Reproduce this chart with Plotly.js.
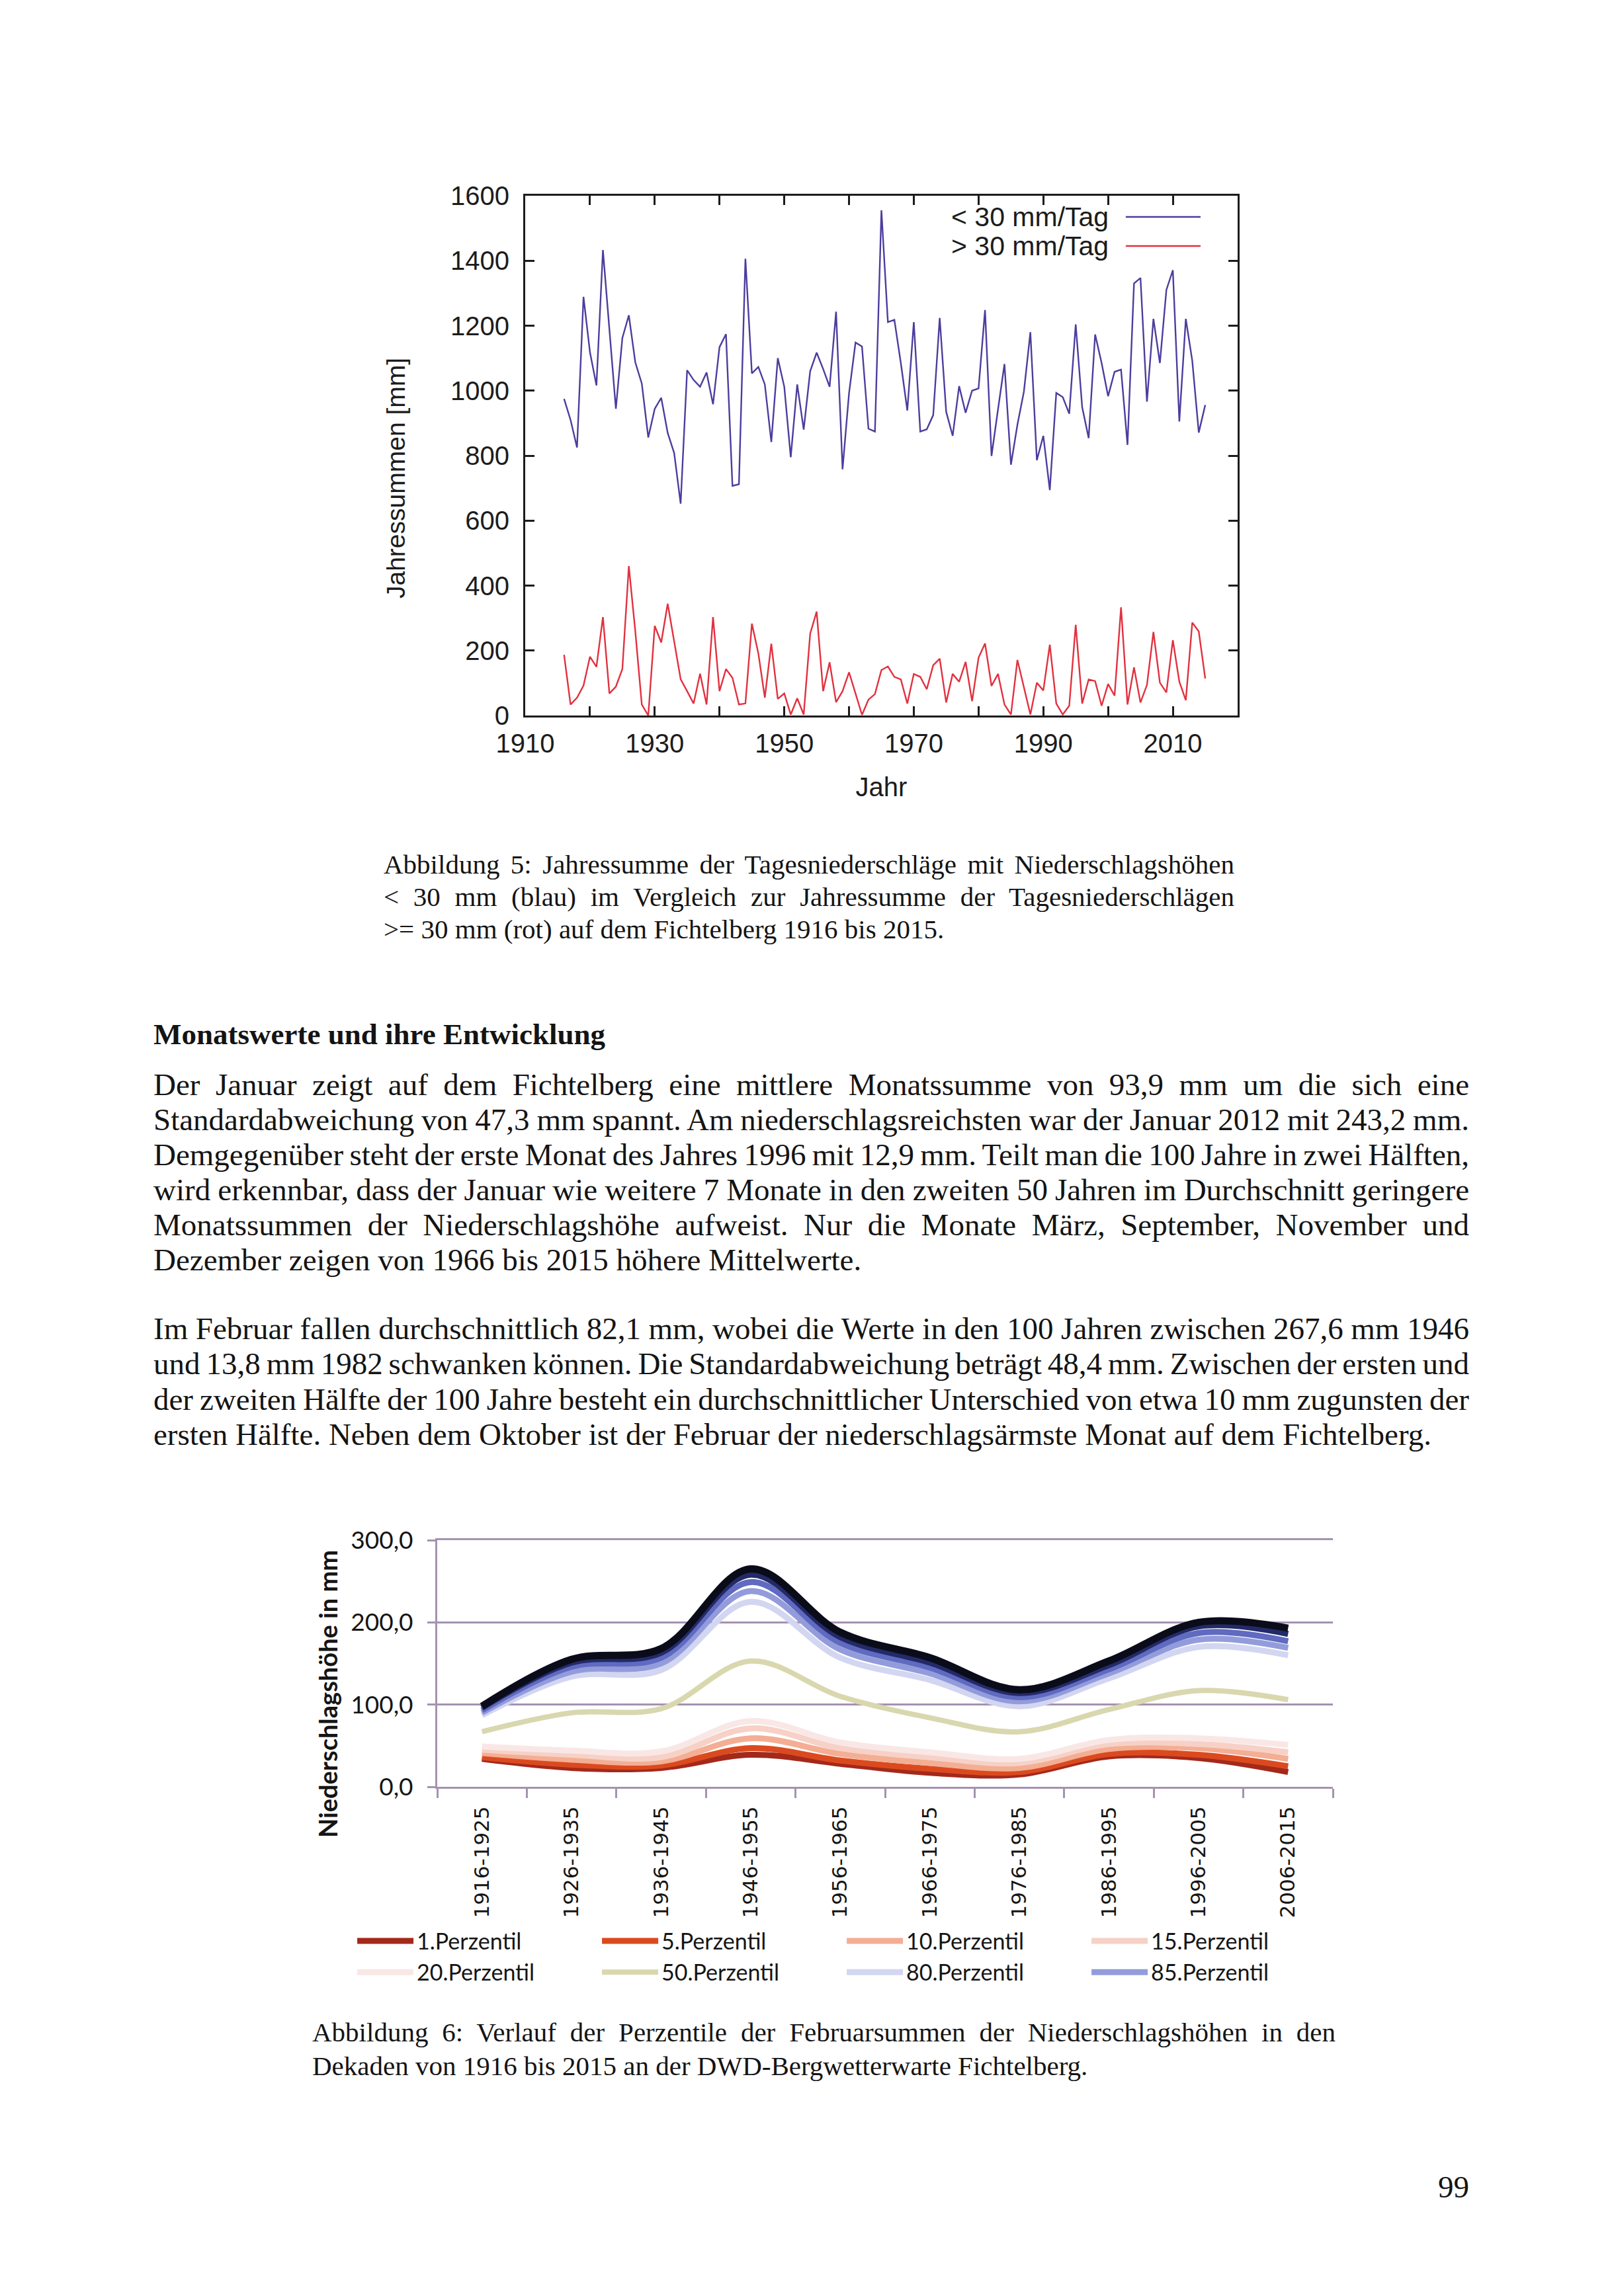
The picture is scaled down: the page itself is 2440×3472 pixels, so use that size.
<!DOCTYPE html>
<html><head><meta charset="utf-8">
<script src="https://cdn.plot.ly/plotly-3.0.1.min.js"></script>
<style>
html,body{margin:0;padding:0;background:#fff;}
body{width:2440px;height:3472px;position:relative;overflow:hidden;font-family:'Liberation Serif','Times New Roman',serif;color:#141414;}
.ln{position:absolute;white-space:nowrap;}
.cap{font-size:41px;line-height:47px;}
.txt{font-size:47px;line-height:53px;}
</style></head><body>
<div id="c1" style="position:absolute;left:480px;top:200px;width:1460px;height:1050px"></div>
<div id="c2" style="position:absolute;left:440px;top:2280px;width:1620px;height:760px"></div>

<div class="ln cap j" style="left:580px;top:1284px;width:1286px">Abbildung 5: Jahressumme der Tagesniederschläge mit Niederschlagshöhen</div>
<div class="ln cap j" style="left:580px;top:1333px;width:1286px">&lt; 30 mm (blau) im Vergleich zur Jahressumme der Tagesniederschlägen</div>
<div class="ln cap" style="left:580px;top:1382px">&gt;= 30 mm (rot) auf dem Fichtelberg 1916 bis 2015.</div>

<div class="ln" style="left:232px;top:1538px;font-size:45px;line-height:53px;font-weight:bold">Monatswerte und ihre Entwicklung</div>

<div class="ln txt j" style="left:232px;top:1614px;width:1989px">Der Januar zeigt auf dem Fichtelberg eine mittlere Monatssumme von 93,9 mm um die sich eine</div>
<div class="ln txt j" style="left:232px;top:1667px;width:1989px">Standardabweichung von 47,3 mm spannt. Am niederschlagsreichsten war der Januar 2012 mit 243,2 mm.</div>
<div class="ln txt j" style="left:232px;top:1720px;width:1989px">Demgegenüber steht der erste Monat des Jahres 1996 mit 12,9 mm. Teilt man die 100 Jahre in zwei Hälften,</div>
<div class="ln txt j" style="left:232px;top:1773px;width:1989px">wird erkennbar, dass der Januar wie weitere 7 Monate in den zweiten 50 Jahren im Durchschnitt geringere</div>
<div class="ln txt j" style="left:232px;top:1826px;width:1989px">Monatssummen der Niederschlagshöhe aufweist. Nur die Monate März, September, November und</div>
<div class="ln txt" style="left:232px;top:1879px">Dezember zeigen von 1966 bis 2015 höhere Mittelwerte.</div>

<div class="ln txt j" style="left:232px;top:1983px;width:1989px">Im Februar fallen durchschnittlich 82,1 mm, wobei die Werte in den 100 Jahren zwischen 267,6 mm 1946</div>
<div class="ln txt j" style="left:232px;top:2036px;width:1989px">und 13,8 mm 1982 schwanken können. Die Standardabweichung beträgt 48,4 mm. Zwischen der ersten und</div>
<div class="ln txt j" style="left:232px;top:2090px;width:1989px">der zweiten Hälfte der 100 Jahre besteht ein durchschnittlicher Unterschied von etwa 10 mm zugunsten der</div>
<div class="ln txt" style="left:232px;top:2143px">ersten Hälfte. Neben dem Oktober ist der Februar der niederschlagsärmste Monat auf dem Fichtelberg.</div>

<div class="ln cap j" style="left:472px;top:3050px;width:1547px">Abbildung 6: Verlauf der Perzentile der Februarsummen der Niederschlagshöhen in den</div>
<div class="ln cap" style="left:472px;top:3101px">Dekaden von 1916 bis 2015 an der DWD-Bergwetterwarte Fichtelberg.</div>

<div class="ln txt" style="left:2174px;top:3281px">99</div>

<script>
// ---------- Abbildung 5 data ----------
const years = [1916,1917,1918,1919,1920,1921,1922,1923,1924,1925,1926,1927,1928,1929,1930,1931,1932,1933,1934,1935,
1936,1937,1938,1939,1940,1941,1942,1943,1944,1945,1946,1947,1948,1949,1950,1951,1952,1953,1954,1955,
1956,1957,1958,1959,1960,1961,1962,1963,1964,1965,1966,1967,1968,1969,1970,1971,1972,1973,1974,1975,
1976,1977,1978,1979,1980,1981,1982,1983,1984,1985,1986,1987,1988,1989,1990,1991,1992,1993,1994,1995,
1996,1997,1998,1999,2000,2001,2002,2003,2004,2005,2006,2007,2008,2009,2010,2011,2012,2013,2014,2015];
const below30 = [975,910,825,1289,1118,1016,1433,1180,944,1162,1232,1087,1022,856,944,978,870,808,652,1063,
1033,1012,1056,958,1134,1174,707,712,1406,1053,1073,1019,842,1100,1012,795,1019,880,1060,1117,
1067,1012,1243,758,992,1148,1136,883,874,1555,1211,1218,1085,939,1211,874,881,925,1224,935,
861,1014,932,1000,1007,1248,799,942,1082,772,895,997,1180,786,861,694,993,980,929,1204,
949,854,1173,1085,983,1058,1065,833,1330,1347,966,1221,1085,1310,1371,905,1221,1092,871,956];
const above30 = [187,34,55,92,181,150,303,68,89,143,460,259,34,0,276,225,344,230,112,75,
37,129,34,303,75,143,116,34,37,283,191,55,221,51,68,3,53,3,252,320,
75,164,41,75,133,68,2,49,66,140,151,119,111,37,128,119,81,155,175,40,
128,104,165,44,178,222,91,128,34,3,171,87,3,101,77,218,37,3,30,279,
37,111,106,30,97,61,333,34,148,40,94,257,101,71,232,104,47,286,259,114];
const seriesNames1 = ['< 30 mm/Tag', '> 30 mm/Tag'];

// ---------- Abbildung 6 data ----------
const decades = ['1916-1925','1926-1935','1936-1945','1946-1955','1956-1965','1966-1975','1976-1985','1986-1995','1996-2005','2006-2015'];
const p1  = [34, 23, 23, 39, 28, 17, 15, 37, 35, 18];
const p5  = [36, 27, 26, 47, 32, 22, 18, 40, 39, 25];
const p10 = [41, 33, 31, 59, 40, 29, 23, 46, 47, 34];
const p15 = [45, 39, 36, 71, 47, 36, 29, 52, 52, 42];
const p20 = [49, 44, 43, 80, 54, 42, 34, 57, 59, 51];
const p50 = [67, 90, 95, 153, 110, 84, 67, 94, 117, 106];
const p80 = [87, 134, 142, 225, 157, 130, 98, 132, 170, 160];
const p85 = [90, 140, 150, 238, 167, 138, 104, 138, 179, 169];
const p90 = [93, 146, 157, 249, 175, 145, 109, 143, 187, 177];
const p95 = [96, 151, 163, 258, 182, 151, 114, 148, 195, 186];
const p99 = [98, 155, 168, 265, 188, 157, 118, 153, 200, 193];
const percentileNames = ['1.Perzentil','5.Perzentil','10.Perzentil','15.Perzentil','20.Perzentil','50.Perzentil','80.Perzentil','85.Perzentil','90.Perzentil','95.Perzentil','99.Perzentil'];

// ---------- Chart 1 ----------
const ink = '#1c1c1c';
const sans = 'Liberation Sans, Arial, sans-serif';
const blue = '#4b3e9e', red = '#e2313f';
Plotly.newPlot('c1', [
  {x: years, y: below30, type:'scatter', mode:'lines', name: seriesNames1[0], line:{color:blue, width:2.4}, showlegend:false},
  {x: years, y: above30, type:'scatter', mode:'lines', name: seriesNames1[1], line:{color:red, width:2.4}, showlegend:false}
], {
  width:1460, height:1050,
  margin:{l:314, r:69, t:96, b:168},
  paper_bgcolor:'rgba(0,0,0,0)', plot_bgcolor:'#fff',
  font:{family:sans, color:ink, size:40},
  xaxis:{range:[1910,2020], tick0:1910, dtick:20, ticks:'inside', ticklen:14, tickwidth:3, tickcolor:ink,
         showline:true, linecolor:ink, linewidth:3, mirror:'ticks', showgrid:false, zeroline:false,
         tickfont:{family:sans, size:40, color:ink}, ticklabelstandoff:5,
         minor:{dtick:10, tick0:1910, ticks:'inside', ticklen:14, tickwidth:3, tickcolor:ink, showgrid:false},
         title:{text:'Jahr', font:{family:sans, size:40, color:ink}, standoff:31}},
  yaxis:{range:[0,1600], dtick:200, ticks:'inside', ticklen:14, tickwidth:3, tickcolor:ink,
         showline:true, linecolor:ink, linewidth:3, mirror:'ticks', showgrid:false, zeroline:false,
         tickfont:{family:sans, size:40, color:ink}, ticklabelstandoff:13},
  annotations:[
    {text:'Jahressummen [mm]', xref:'paper', yref:'paper', x:-0.182, y:0.4567, textangle:-90, showarrow:false,
     xanchor:'center', yanchor:'middle', font:{family:sans, size:39, color:ink}},
    {text:seriesNames1[0], xref:'paper', yref:'paper', x:0.8208, y:0.9593, showarrow:false, xanchor:'right', yanchor:'middle',
     font:{family:sans, size:41, color:ink}},
    {text:seriesNames1[1], xref:'paper', yref:'paper', x:0.8208, y:0.9033, showarrow:false, xanchor:'right', yanchor:'middle',
     font:{family:sans, size:41, color:ink}}
  ],
  shapes:[
    {type:'line', xref:'paper', yref:'paper', x0:0.843, x1:0.948, y0:0.9593, y1:0.9593, line:{color:blue, width:2.4}},
    {type:'line', xref:'paper', yref:'paper', x0:0.843, x1:0.948, y0:0.9033, y1:0.9033, line:{color:red, width:2.4}}
  ]
}, {displayModeBar:false});

// ---------- Chart 2 ----------
const grid = '#a592b0';
const lato = 'Lato, Open Sans, sans-serif';
const pSeries = [p1,p5,p10,p15,p20,p50,p80,p85,p90,p95,p99];
const pColors = ['#a3291b','#db4a1f','#f3ae94','#f7d1c6','#f9e7e6','#d9d7ae','#d3d6f1','#939cdb','#5f6ac0','#232a68','#0b0c1a'];
const pWidths = [9,9,9,9,9,8,9,9,9,9,11];
const traces2 = pSeries.map((ys,i)=>({
  x: decades, y: ys, type:'scatter', mode:'lines', name: percentileNames[i],
  line:{color:pColors[i], width:pWidths[i], shape:'spline', smoothing:1},
  showlegend: i < 8
}));
Plotly.newPlot('c2', traces2, {
  width:1620, height:760,
  margin:{l:221, r:45, t:49, b:338},
  separators:',.',
  paper_bgcolor:'rgba(0,0,0,0)', plot_bgcolor:'rgba(0,0,0,0)',
  font:{family:lato, color:'#151515', size:34},
  xaxis:{type:'category', range:[-0.5,9.5], tickson:'boundaries', ticks:'outside', ticklen:14, tickwidth:3, tickcolor:grid,
         showline:true, linecolor:grid, linewidth:3, mirror:true, showgrid:false, zeroline:false, tickangle:-90,
         tickfont:{family:'DejaVu Sans, sans-serif', size:31, color:'#151515'}, ticklabelstandoff:14},
  yaxis:{range:[0,300], dtick:100, tickformat:'.1f', ticks:'outside', ticklen:12, tickwidth:3, tickcolor:grid,
         showline:true, linecolor:grid, linewidth:3, showgrid:true, gridcolor:grid, gridwidth:3, zeroline:false,
         tickfont:{family:lato, size:37, color:'#151515'}, ticklabelstandoff:14},
  legend:{orientation:'h', x:-0.093, xanchor:'left', y:-0.548, yanchor:'top', itemwidth:85,
          entrywidth:270, entrywidthmode:'pixels', font:{family:lato, size:34, color:'#151515'},
          bgcolor:'rgba(0,0,0,0)', tracegroupgap:0},
  annotations:[
    {text:'<b>Niederschlagshöhe in mm</b>', xref:'paper', yref:'paper', x:-0.1226, y:0.378, textangle:-90, showarrow:false,
     xanchor:'center', yanchor:'middle', font:{family:lato, size:38, color:'#151515'}}
  ]
}, {displayModeBar:false});

// ---------- justify text lines ----------
function justify(){
  document.querySelectorAll('.j').forEach(el=>{
    const target = parseFloat(el.style.width);
    el.style.width = 'auto';
    el.style.wordSpacing = '0px';
    const nat = el.getBoundingClientRect().width;
    const n = (el.textContent.match(/ /g)||[]).length;
    if(n>0) el.style.wordSpacing = ((target-nat)/n)+'px';
  });
}
if(document.fonts && document.fonts.ready){ document.fonts.ready.then(justify); } else { justify(); }
</script>
</body></html>
